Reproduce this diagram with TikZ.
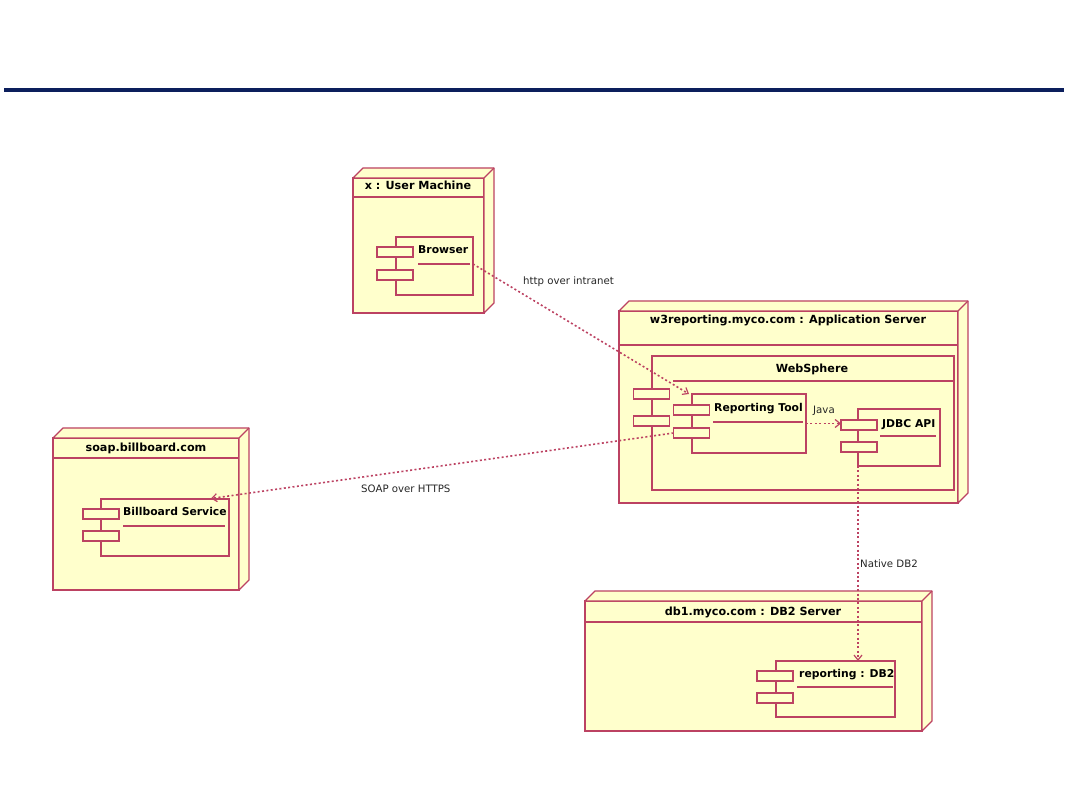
\documentclass[tikz,border=0pt]{standalone}
\usepackage{fontspec}
\setmainfont{DejaVu Sans}
\usetikzlibrary{arrows.meta}
\definecolor{edge}{HTML}{BC4262}
\definecolor{paper}{HTML}{FFFFCC}
\definecolor{navy}{HTML}{0C1F5C}
\newcommand\boxdepth[1]{%
  \draw[line, fill=paper, line join=round] (#1.north west) -- ++(10,-10) -- ([shift={(10,-10)}]#1.north east) -- ([shift={(10,-10)}]#1.south east) -- (#1.south east) -- (#1.north east) -- cycle;
  \draw[line] (#1.north east) -- ++(10,-10);}
\begin{document}
\begin{tikzpicture}[x=1pt,y=-1pt,
  line/.style={draw=edge, line width=1.3pt},
  dev/.style={line, fill=paper, inner sep=0pt, outer sep=0pt, anchor=north west},
  comp/.style={line, fill=paper, inner sep=0pt, outer sep=0pt, anchor=north west},
  port/.style={line, fill=paper, inner sep=0pt, outer sep=0pt, minimum width=36pt, minimum height=10pt},
  title/.style={font=\bfseries\fontsize{11.2}{13}\selectfont, inner sep=0pt, anchor=base},
  cname/.style={font=\bfseries\fontsize{10.8}{13}\selectfont, inner sep=0pt, anchor=base west},
  lbl/.style={font=\fontsize{10.2}{12}\selectfont, text=black!85, inner sep=0pt, anchor=base west},
  uline/.style={draw=edge, line width=1.1pt},
  dep/.style={draw=edge, line width=1.6pt, dash pattern=on 2pt off 2.4pt, -{Straight Barb[length=5pt,width=8pt,line width=1.2pt]}},
]
\useasboundingbox (0,0) rectangle (1080,810);
\fill[navy] (4,88) rectangle (1064,92);

% ---- User Machine
\node[dev, minimum width=131pt, minimum height=135pt] (um) at (353,178) {};
\boxdepth{um}
\draw[line] (353,197) -- (484,197);
\node[title] (umt) at (418,190) {x : User Machine};
\node[comp, minimum width=77pt, minimum height=58pt] (br) at (396,237) {};
\node[port] (br1) at (395,252) {};
\node[port] (br2) at (395,275) {};
\node[cname] (brt) at (418,254) {Browser};
\draw[uline] (418,264) -- (470,264);

% ---- Application Server
\node[dev, minimum width=339pt, minimum height=192pt] (as) at (619,311) {};
\boxdepth{as}
\draw[line] (619,345) -- (958,345);
\node[title] (ast) at (788,324) {w3reporting.myco.com : Application Server};
\node[comp, minimum width=302pt, minimum height=134pt] (ws) at (652,356) {};
\node[port] (ws1) at (651.5,394) {};
\node[port] (ws2) at (651.5,421) {};
\node[title] (wst) at (812,373) {WebSphere};
\draw[uline] (673,381) -- (953,381);
\node[comp, minimum width=114pt, minimum height=59pt] (rt) at (692,394) {};
\node[port] (rt1) at (691.5,410) {};
\node[port] (rt2) at (691.5,433) {};
\node[cname] (rtt) at (714,412) {Reporting Tool};
\draw[uline] (713,422) -- (803,422);
\node[comp, minimum width=82pt, minimum height=57pt] (jd) at (858,409) {};
\node[port] (jd1) at (859,425) {};
\node[port] (jd2) at (859,447) {};
\node[cname] (jdt) at (882,428) {JDBC API};
\draw[uline] (880,436) -- (936,436);

% ---- Billboard
\node[dev, minimum width=186pt, minimum height=152pt] (bb) at (53,438) {};
\boxdepth{bb}
\draw[line] (53,458) -- (239,458);
\node[title] (bbt) at (146,452) {soap.billboard.com};
\node[comp, minimum width=128pt, minimum height=57pt] (bs) at (101,499) {};
\node[port] (bs1) at (101,514) {};
\node[port] (bs2) at (101,536) {};
\node[cname] (bst) at (123,515) {Billboard Service};
\draw[uline] (123,526) -- (225,526);

% ---- DB2 Server
\node[dev, minimum width=337pt, minimum height=130pt] (db) at (585,601) {};
\boxdepth{db}
\draw[line] (585,622) -- (922,622);
\node[title] (dbt) at (753,615) {db1.myco.com : DB2 Server};
\node[comp, minimum width=119pt, minimum height=56pt] (rd) at (776,661) {};
\node[port] (rd1) at (775,676) {};
\node[port] (rd2) at (775,698) {};
\node[cname] (rdt) at (799,677) {reporting : DB2};
\draw[uline] (797,687) -- (893,687);

% ---- connectors
\coordinate (brout) at (473,264);
\coordinate (bsin) at (211,498.5);
\draw[dep] (brout) -- ([xshift=-3pt]rt.north west);
\draw[dep] (rt.east) -- (rt.east -| jd1.west);
\draw[dep] (rt2.west) -- (bsin);
\draw[dep] (jd.south west) -- (jd.south west |- rd.north);

\node[lbl] (l1) at (523,285) {http over intranet};
\node[lbl] (l2) at (813,414) {Java};
\node[lbl] (l3) at (361,493) {SOAP over HTTPS};
\node[lbl] (l4) at (860,567) {Native DB2};
\end{tikzpicture}
\end{document}
